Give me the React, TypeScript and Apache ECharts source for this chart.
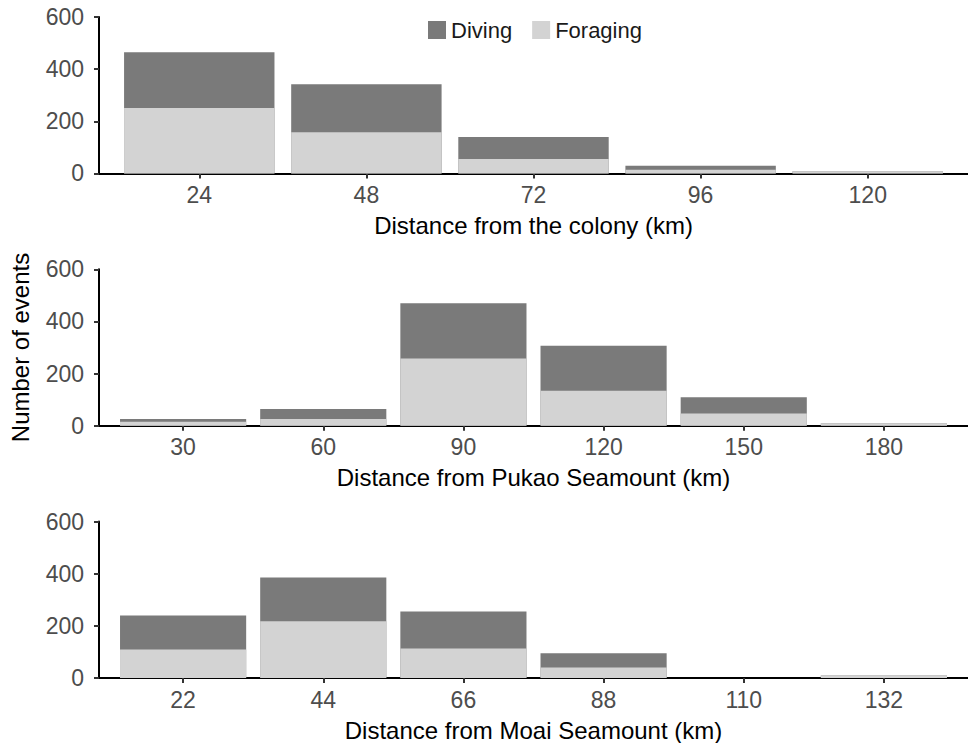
import React, { useEffect, useRef } from "react";
import * as echarts from "echarts";

const colonyCats = ["24", "48", "72", "96", "120"];
const colonyForaging = [251, 158, 55, 14, 8];
const colonyDiving = [214, 184, 85, 15, 0];

const pukaoCats = ["30", "60", "90", "120", "150", "180"];
const pukaoForaging = [15, 26, 258, 134, 47, 9];
const pukaoDiving = [11, 38, 212, 173, 62, 0];

const moaiCats = ["22", "44", "66", "88", "110", "132"];
const moaiForaging = [109, 218, 113, 40, 0, 10];
const moaiDiving = [131, 168, 142, 55, 0, 0];

const yTicks = [0, 200, 400, 600];

const xTitles = [
  "Distance from the colony (km)",
  "Distance from Pukao Seamount (km)",
  "Distance from Moai Seamount (km)",
];

const FONT = "'Liberation Sans', Arial, Helvetica, sans-serif";
const DARK = "#7a7a7a";
const LIGHT = "#d3d3d3";

export default function App() {
  const ref = useRef<HTMLDivElement>(null);
  useEffect(() => {
    if (!ref.current) return;
    const chart = echarts.init(ref.current, undefined, { renderer: "svg" });
    const panels = [
      { cats: colonyCats, f: colonyForaging, d: colonyDiving },
      { cats: pukaoCats, f: pukaoForaging, d: pukaoDiving },
      { cats: moaiCats, f: moaiForaging, d: moaiDiving },
    ];
    const tops = [17, 269.3, 521.6];
    const gridH = 156.4;
    const grids = tops.map((t) => ({ left: 99, right: 0, top: t, height: gridH }));
    const xAxes = panels.map((p, i) => {
      const idx = p.cats.map((_, k) => k);
      return {
        type: "value",
        gridIndex: i,
        min: -0.6,
        max: p.cats.length - 1 + 0.6,
        name: xTitles[i],
        nameLocation: "middle",
        nameGap: 40,
        nameTextStyle: { fontFamily: FONT, fontSize: 24, color: "#000" },
        axisLine: { show: true, onZero: false, lineStyle: { color: "#000", width: 2 } },
        axisTick: {
          show: true,
          customValues: idx,
          length: 5,
          lineStyle: { color: "#333", width: 2 },
        },
        axisLabel: {
          customValues: idx,
          margin: 10,
          fontFamily: FONT,
          fontSize: 23,
          color: "#4d4d4d",
          formatter: (v: number) => p.cats[Math.round(v)] ?? "",
        },
        splitLine: { show: false },
      };
    });
    const yAxes = panels.map((_, i) => ({
      type: "value",
      gridIndex: i,
      min: 0,
      max: 600,
      interval: 200,
      name: i === 1 ? "Number of events" : "",
      nameLocation: "middle",
      nameGap: 67,
      nameTextStyle: { fontFamily: FONT, fontSize: 24, color: "#000" },
      axisLine: { show: true, onZero: false, lineStyle: { color: "#000", width: 2 } },
      axisTick: { show: true, length: 5, lineStyle: { color: "#333", width: 2 } },
      axisLabel: {
        margin: 15,
        fontFamily: FONT,
        fontSize: 23,
        color: "#4d4d4d",
        formatter: (v: number) => (yTicks.includes(v) ? String(v) : ""),
      },
      splitLine: { show: false },
    }));
    const series: any[] = [];
    panels.forEach((p, i) => {
      // Diving stacked on top of Foraging: total height drawn first, foraging overlaid
      series.push({
        type: "bar",
        name: "Diving",
        xAxisIndex: i,
        yAxisIndex: i,
        barWidth: "90%",
        barGap: "-100%",
        itemStyle: { color: DARK },
        data: p.d.map((v, k) => [k, v + p.f[k]]),
      });
      series.push({
        type: "bar",
        name: "Foraging",
        xAxisIndex: i,
        yAxisIndex: i,
        barWidth: "90%",
        barGap: "-100%",
        itemStyle: { color: LIGHT },
        data: p.f.map((v, k) => [k, v]),
      });
    });
    chart.setOption({
      animation: false,
      backgroundColor: "#fff",
      legend: {
        data: ["Diving", "Foraging"],
        left: 423,
        top: 14,
        itemWidth: 18,
        itemHeight: 18,
        itemGap: 20,
        icon: "rect",
        textStyle: { fontFamily: FONT, fontSize: 22, color: "#1a1a1a" },
        itemStyle: { borderWidth: 0 },
      },
      grid: grids,
      xAxis: xAxes,
      yAxis: yAxes,
      series,
    });
    return () => chart.dispose();
  }, []);
  return (
    <div
      ref={ref}
      style={{ position: "absolute", left: 0, top: 0, width: 968, height: 743 }}
    />
  );
}
